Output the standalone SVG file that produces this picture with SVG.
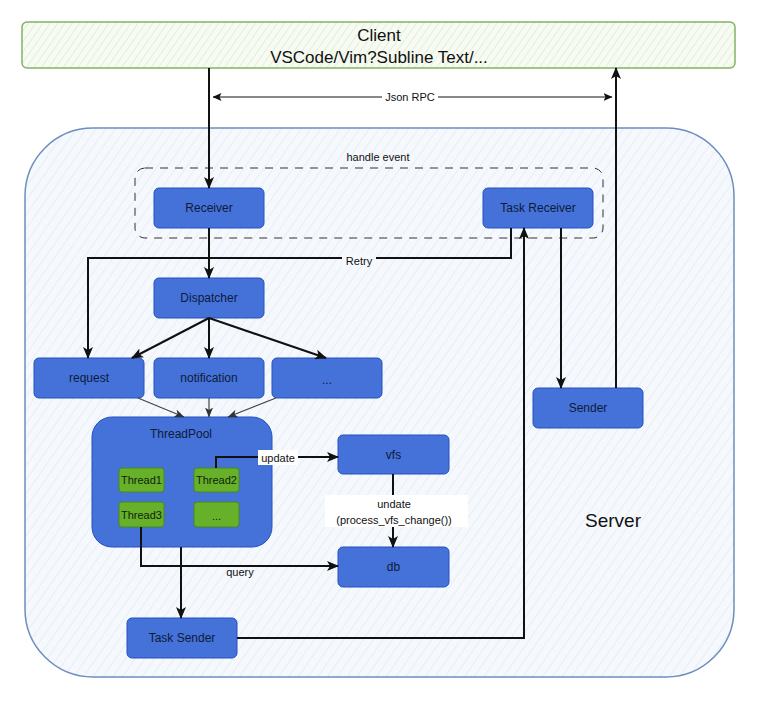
<svg xmlns="http://www.w3.org/2000/svg" width="761" height="704" viewBox="0 0 761 704">
<style>
.node rect{fill:#4472d9;stroke:#2450c2;stroke-width:1}
.node text{font-family:"Liberation Sans",Arial,sans-serif;font-size:12px;fill:#0f1a38;text-anchor:middle;dominant-baseline:central}
.thr rect{fill:#66b02a;stroke:#468a18;stroke-width:1}
.thr text{font-family:"Liberation Sans",Arial,sans-serif;font-size:11px;fill:#10240a;text-anchor:middle;dominant-baseline:central}
.edge{fill:none;stroke:#111;stroke-width:2}
.thin{fill:none;stroke:#444;stroke-width:1.2}
.lbl{font-family:"Liberation Sans",Arial,sans-serif;font-size:11px;fill:#111;text-anchor:middle;dominant-baseline:central}
</style>
<defs>
<pattern id="hg" patternUnits="userSpaceOnUse" width="6" height="6" patternTransform="rotate(35)">
<rect width="6" height="6" fill="#f7fbf3"/><line x1="0" y1="0" x2="0" y2="6" stroke="#d4e9c3" stroke-width="1.2"/></pattern>
<pattern id="hb" patternUnits="userSpaceOnUse" width="8" height="8" patternTransform="rotate(35)">
<rect width="8" height="8" fill="#f5f8fc"/><line x1="0" y1="0" x2="0" y2="8" stroke="#dde5f1" stroke-width="1"/></pattern>
<marker id="ah" markerUnits="userSpaceOnUse" markerWidth="12" markerHeight="10" refX="11" refY="5" orient="auto"><path d="M0,0 L12,5 L0,10 L3,5 z" fill="#111"/></marker>
<marker id="as" markerUnits="userSpaceOnUse" markerWidth="9" markerHeight="8" refX="8.5" refY="4" orient="auto-start-reverse"><path d="M0,0 L9,4 L0,8 L2,4 z" fill="#111"/></marker>
<marker id="ag" markerUnits="userSpaceOnUse" markerWidth="10" markerHeight="8" refX="9.5" refY="4" orient="auto"><path d="M0,0 L10,4 L0,8 L2.5,4 z" fill="#333"/></marker>
</defs>
<rect width="761" height="704" fill="#ffffff"/>

<g id="client">
<rect x="22" y="22" width="713" height="46" rx="5" fill="url(#hg)" stroke="#82b366" stroke-width="1.5"/>
<text x="379" y="35" font-family="Liberation Sans,Arial,sans-serif" font-size="17" text-anchor="middle" dominant-baseline="central" fill="#111">Client</text>
<text x="379" y="57" font-family="Liberation Sans,Arial,sans-serif" font-size="17" text-anchor="middle" dominant-baseline="central" fill="#111">VSCode/Vim?Subline Text/...</text>
</g>

<g id="server">
<rect x="25" y="128" width="709" height="549" rx="68" fill="url(#hb)" stroke="#6c8ebf" stroke-width="1.5"/>
<text x="613" y="520" font-family="Liberation Sans,Arial,sans-serif" font-size="19" text-anchor="middle" dominant-baseline="central" fill="#111">Server</text>
</g>

<g id="handle-event">
<rect x="135" y="168" width="468" height="70" rx="10" fill="none" stroke="#333" stroke-width="1" stroke-dasharray="8 7"/>
<text x="378" y="157" class="lbl">handle event</text>
</g>

<g id="receiver" class="node"><rect x="154" y="188" width="110" height="40" rx="5"/><text x="209" y="208">Receiver</text></g>
<g id="task-receiver" class="node"><rect x="483" y="188" width="110" height="40" rx="5"/><text x="538" y="208">Task Receiver</text></g>
<g id="dispatcher" class="node"><rect x="154" y="278" width="110" height="40" rx="5"/><text x="209" y="298">Dispatcher</text></g>
<g id="request" class="node"><rect x="34" y="358" width="110" height="40" rx="5"/><text x="89" y="378">request</text></g>
<g id="notification" class="node"><rect x="154" y="358" width="110" height="40" rx="5"/><text x="209" y="378">notification</text></g>
<g id="more" class="node"><rect x="272" y="358" width="110" height="40" rx="5"/><text x="327" y="380" font-size="9">...</text></g>
<g id="sender" class="node"><rect x="533" y="388" width="110" height="40" rx="5"/><text x="588" y="408">Sender</text></g>
<g id="threadpool" class="node"><rect x="92" y="417" width="180" height="130" rx="20"/><text x="181" y="434" font-size="11">ThreadPool</text></g>
<g id="thread1" class="thr"><rect x="119" y="468" width="45" height="24" rx="3"/><text x="141.5" y="480">Thread1</text></g>
<g id="thread2" class="thr"><rect x="194" y="468" width="45" height="24" rx="3"/><text x="216.5" y="480">Thread2</text></g>
<g id="thread3" class="thr"><rect x="119" y="502" width="45" height="25" rx="3"/><text x="141.5" y="515">Thread3</text></g>
<g id="thread-more" class="thr"><rect x="194" y="502" width="45" height="25" rx="3"/><text x="216.5" y="516" font-size="9">...</text></g>
<g id="vfs" class="node"><rect x="338" y="435" width="111" height="39" rx="5"/><text x="393.5" y="455">vfs</text></g>
<g id="db" class="node"><rect x="338" y="547" width="111" height="40" rx="5"/><text x="393.5" y="567">db</text></g>
<g id="task-sender" class="node"><rect x="127" y="618" width="110" height="40" rx="5"/><text x="182" y="638">Task Sender</text></g>

<g id="connectors">
<path class="edge" d="M209,68 V188" marker-end="url(#ah)"/>
<path class="edge" d="M209,228 V278" marker-end="url(#ah)"/>
<path class="edge" d="M209,318 L132,358" marker-end="url(#ah)"/>
<path class="edge" d="M209,318 V358" marker-end="url(#ah)"/>
<path class="edge" d="M209,318 L326,358" marker-end="url(#ah)"/>
<path class="edge" d="M511,228 V258 H88 V358" marker-end="url(#ah)"/>
<rect x="342" y="252" width="34" height="14" fill="#f5f8fc"/>
<text x="359" y="261" class="lbl">Retry</text>
<path class="thin" d="M138,398 L184,417" marker-end="url(#ag)"/>
<path class="thin" d="M209,398 V417" marker-end="url(#ag)"/>
<path class="thin" d="M276,398 L228,417" marker-end="url(#ag)"/>
<path class="edge" d="M216,468 V457 H338" marker-end="url(#ah)"/>
<rect x="258" y="450" width="40" height="15" fill="#ffffff"/>
<text x="278" y="458" class="lbl">update</text>
<path class="edge" d="M393,474 V547" marker-end="url(#ah)"/>
<rect x="325" y="495" width="143" height="32" fill="#ffffff"/>
<text x="394" y="504" class="lbl">undate</text>
<text x="394" y="520" class="lbl">(process_vfs_change())</text>
<path class="edge" d="M141,527 V566 H338" marker-end="url(#ah)"/>
<text x="240" y="572" class="lbl">query</text>
<path class="edge" d="M181,547 V618" marker-end="url(#ah)"/>
<path class="edge" d="M237,638 H524 V228" marker-end="url(#ah)"/>
<path class="edge" d="M561,228 V388" marker-end="url(#ah)"/>
<path class="edge" d="M616,388 V68" marker-end="url(#ah)"/>
<path d="M213,97 H612" fill="none" stroke="#111" stroke-width="1" marker-start="url(#as)" marker-end="url(#as)"/>
<rect x="382" y="90" width="56" height="14" fill="#ffffff"/>
<text x="410" y="97" class="lbl" font-size="10">Json RPC</text>
</g>
</svg>
